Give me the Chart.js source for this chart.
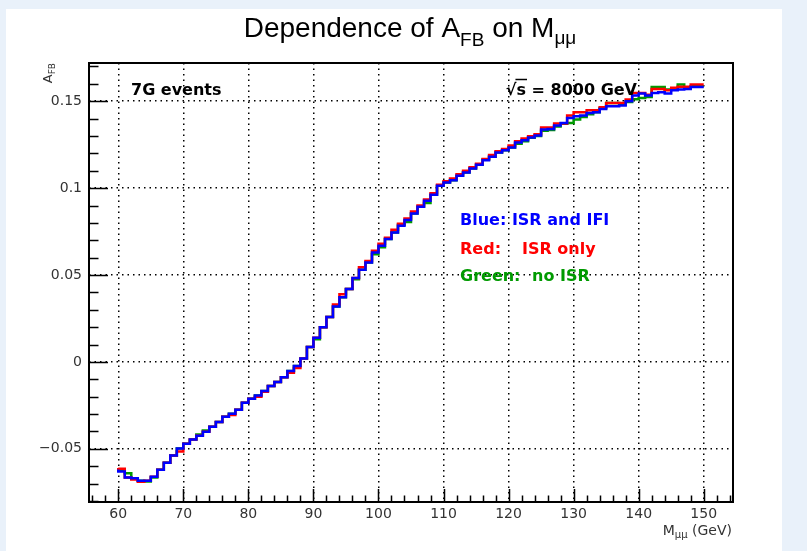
<!DOCTYPE html>
<html>
<head>
<meta charset="utf-8">
<script src="https://cdn.jsdelivr.net/npm/chart.js@4/dist/chart.umd.min.js"></script>
<style>
  html, body { margin: 0; padding: 0; background: #e9f1fa; }
  #afb-chart { display: block; }
</style>
</head>
<body>
<canvas id="afb-chart" width="807" height="551"></canvas>
<script>
// ビンの下端 (GeV)
const firstBin = 60;
const binCount = 90;

// Blue: ISR and IFI
const blueAfb = [
  -0.0619, -0.0630, -0.0665, -0.0670, -0.0684, -0.0684, -0.0660, -0.0620, -0.0580, -0.0538,
  -0.0498, -0.0471, -0.0447, -0.0425, -0.0402, -0.0373, -0.0345, -0.0316, -0.0298, -0.0275,
  -0.0235, -0.0212, -0.0193, -0.0167, -0.0139, -0.0115, -0.0088, -0.0052, -0.0024, 0.0019,
  0.0086, 0.0139, 0.0200, 0.0258, 0.0319, 0.0372, 0.0420, 0.0483, 0.0530, 0.0572,
  0.0630, 0.0669, 0.0707, 0.0745, 0.0784, 0.0816, 0.0854, 0.0893, 0.0927, 0.0962,
  0.1013, 0.1033, 0.1046, 0.1071, 0.1090, 0.1113, 0.1134, 0.1161, 0.1180, 0.1205,
  0.1218, 0.1234, 0.1262, 0.1276, 0.1291, 0.1303, 0.1337, 0.1340, 0.1360, 0.1375,
  0.1404, 0.1414, 0.1418, 0.1433, 0.1437, 0.1456, 0.1471, 0.1471, 0.1475, 0.1500,
  0.1533, 0.1544, 0.1533, 0.1548, 0.1552, 0.1544, 0.1563, 0.1567, 0.1571, 0.1582
];

// Red: ISR only
const redAfb = [
  -0.0610, -0.0615, -0.0665, -0.0676, -0.0690, -0.0684, -0.0660, -0.0620, -0.0580, -0.0538,
  -0.0515, -0.0471, -0.0447, -0.0425, -0.0402, -0.0373, -0.0345, -0.0316, -0.0305, -0.0275,
  -0.0235, -0.0212, -0.0200, -0.0172, -0.0139, -0.0115, -0.0088, -0.0062, -0.0035, 0.0019,
  0.0086, 0.0139, 0.0200, 0.0258, 0.0330, 0.0390, 0.0420, 0.0483, 0.0545, 0.0580,
  0.0640, 0.0680, 0.0715, 0.0760, 0.0795, 0.0825, 0.0865, 0.0900, 0.0935, 0.0970,
  0.1020, 0.1040, 0.1055, 0.1080, 0.1100, 0.1120, 0.1140, 0.1168, 0.1190, 0.1212,
  0.1225, 0.1245, 0.1270, 0.1285, 0.1298, 0.1310, 0.1349, 0.1349, 0.1372, 0.1372,
  0.1418, 0.1437, 0.1437, 0.1448, 0.1448, 0.1466, 0.1490, 0.1490, 0.1490, 0.1510,
  0.1548, 0.1548, 0.1538, 0.1571, 0.1571, 0.1563, 0.1577, 0.1583, 0.1583, 0.1596
];

// Green: no ISR
const greenAfb = [
  -0.0619, -0.0620, -0.0640, -0.0672, -0.0684, -0.0688, -0.0665, -0.0620, -0.0580, -0.0538,
  -0.0498, -0.0471, -0.0447, -0.0418, -0.0395, -0.0373, -0.0345, -0.0316, -0.0298, -0.0275,
  -0.0235, -0.0212, -0.0193, -0.0167, -0.0139, -0.0115, -0.0088, -0.0052, -0.0024, 0.0019,
  0.0086, 0.0130, 0.0200, 0.0258, 0.0319, 0.0372, 0.0420, 0.0475, 0.0530, 0.0572,
  0.0620, 0.0660, 0.0707, 0.0745, 0.0790, 0.0805, 0.0854, 0.0893, 0.0915, 0.0962,
  0.1013, 0.1033, 0.1046, 0.1071, 0.1090, 0.1113, 0.1134, 0.1165, 0.1180, 0.1205,
  0.1218, 0.1234, 0.1255, 0.1270, 0.1290, 0.1300, 0.1330, 0.1335, 0.1355, 0.1370,
  0.1375, 0.1395, 0.1410, 0.1425, 0.1437, 0.1460, 0.1490, 0.1490, 0.1480, 0.1495,
  0.1512, 0.1519, 0.1525, 0.1582, 0.1582, 0.1567, 0.1567, 0.1596, 0.1573, 0.1586
];

// 目盛り
const xMajorTicks = [60, 70, 80, 90, 100, 110, 120, 130, 140, 150];
const yMajorTicks = [-0.05, 0, 0.05, 0.1, 0.15];
const yTickLabels = ['\u22120.05', '0', '0.05', '0.1', '0.15'];

// 軸の範囲
const xRange = [55.5, 154.5];
const yRange = [-0.0806, 0.172];

/*
  ヒストグラムの点列 (ビン端 + 最後の端)
*/
function histPoints(values) {
  let points = values.map((v, i) => ({ x: firstBin + i, y: v }));
  points.push({ x: firstBin + binCount, y: values[values.length - 1] });
  return points;
}

/*
  添字付きテキスト描画
*/
function drawParts(ctx, parts, x, y, align) {
  let total = 0;
  parts.forEach(p => { ctx.font = p.font; p.w = ctx.measureText(p.text).width; total += p.w; });
  let cx = align === 'center' ? x - total / 2 : (align === 'right' ? x - total : x);
  ctx.textAlign = 'left';
  ctx.textBaseline = 'alphabetic';
  parts.forEach(p => {
    ctx.font = p.font;
    ctx.fillStyle = p.color || '#000';
    p.x = cx;
    ctx.fillText(p.text, cx, y + (p.dy || 0));
    cx += p.w;
  });
  return parts;
}

const rootStyle = {
  id: 'rootStyle',
  beforeDraw(chart) {
    const ctx = chart.ctx;
    ctx.save();
    ctx.fillStyle = '#e9f1fa';
    ctx.fillRect(0, 0, chart.width, chart.height);
    ctx.fillStyle = '#ffffff';
    ctx.fillRect(6, 9, 776, chart.height - 9);
    ctx.restore();
  },
  afterDraw(chart) {
    const ctx = chart.ctx;
    const area = chart.chartArea;
    const xs = chart.scales.x;
    const ys = chart.scales.y;
    ctx.save();

    // 枠
    ctx.strokeStyle = '#000';
    ctx.lineWidth = 2;
    ctx.strokeRect(area.left, area.top, area.right - area.left, area.bottom - area.top);

    // x 目盛り (内向き)
    ctx.lineWidth = 1.5;
    ctx.beginPath();
    for (let v = 56; v <= 154; v += 2) {
      let px = Math.round(xs.getPixelForValue(v)) + 0.5;
      let len = v % 10 === 0 ? 13 : 6.5;
      ctx.moveTo(px, area.bottom);
      ctx.lineTo(px, area.bottom - len);
    }
    // y 目盛り (内向き)
    for (let k = -8; k <= 17; k++) {
      let py = Math.round(ys.getPixelForValue(k / 100)) + 0.5;
      let len = k % 5 === 0 ? 19 : 9.5;
      ctx.moveTo(area.left, py);
      ctx.lineTo(area.left + len, py);
    }
    ctx.stroke();

    // タイトル
    drawParts(ctx, [
      { text: 'Dependence of A', font: '28px "Liberation Sans"' },
      { text: 'FB', font: '19px "Liberation Sans"', dy: 9 },
      { text: ' on M', font: '28px "Liberation Sans"' },
      { text: '\u03bc\u03bc', font: '19px "Liberation Sans"', dy: 7 }
    ], 410, 37, 'center');

    // 軸タイトル
    drawParts(ctx, [
      { text: 'M', font: '14px "DejaVu Sans"', color: '#333' },
      { text: '\u03bc\u03bc', font: '10px "DejaVu Sans"', color: '#333', dy: 3 },
      { text: ' (GeV)', font: '14px "DejaVu Sans"', color: '#333' }
    ], 732, 535, 'right');

    ctx.save();
    ctx.translate(52, area.top);
    ctx.rotate(-Math.PI / 2);
    drawParts(ctx, [
      { text: 'A', font: '13px "DejaVu Sans"', color: '#333' },
      { text: 'FB', font: '9px "DejaVu Sans"', color: '#333', dy: 3 }
    ], 0, 0, 'right');
    ctx.restore();

    // 注記
    const bold = 'bold 16px "DejaVu Sans"';
    drawParts(ctx, [{ text: '7G events', font: bold }], 131, 95, 'left');
    const sqrtParts = drawParts(ctx, [
      { text: '\u221a', font: bold },
      { text: 's', font: bold },
      { text: ' = 8000 GeV', font: bold }
    ], 637, 95, 'right');
    // √ の上線
    ctx.lineWidth = 1.5;
    ctx.beginPath();
    ctx.moveTo(sqrtParts[1].x - 1, 79.5);
    ctx.lineTo(sqrtParts[1].x + sqrtParts[1].w + 1, 79.5);
    ctx.stroke();

    drawParts(ctx, [{ text: 'Blue: ISR and IFI', font: bold, color: '#0000ff' }], 460, 225, 'left');
    drawParts(ctx, [{ text: 'Red:', font: bold, color: '#ff0000' }], 460, 254, 'left');
    drawParts(ctx, [{ text: 'ISR only', font: bold, color: '#ff0000' }], 522, 254, 'left');
    drawParts(ctx, [{ text: 'Green:', font: bold, color: '#009a00' }], 460, 281, 'left');
    drawParts(ctx, [{ text: 'no ISR', font: bold, color: '#009a00' }], 532, 281, 'left');

    ctx.restore();
  }
};

const dottedGrid = {
  display: true,
  drawTicks: false,
  color: '#000',
  lineWidth: 1.5
};

new Chart(document.getElementById('afb-chart'), {
  type: 'line',
  data: {
    datasets: [
      { label: 'Blue', data: histPoints(blueAfb), borderColor: '#0000ff', order: 0 },
      { label: 'Red', data: histPoints(redAfb), borderColor: '#ff0000', order: 1 },
      { label: 'Green', data: histPoints(greenAfb), borderColor: '#009a00', order: 2 }
    ]
  },
  options: {
    responsive: false,
    animation: false,
    devicePixelRatio: 1,
    layout: { padding: { top: 63, right: 74, left: 0, bottom: 0 } },
    elements: {
      line: { stepped: 'after', borderWidth: 2.5, fill: false, tension: 0 },
      point: { radius: 0 }
    },
    plugins: {
      legend: { display: false },
      tooltip: { enabled: false },
      title: { display: false }
    },
    scales: {
      x: {
        type: 'linear',
        min: xRange[0],
        max: xRange[1],
        grid: dottedGrid,
        border: { display: false, dash: [1.5, 4] },
        afterBuildTicks: scale => { scale.ticks = xMajorTicks.map(v => ({ value: v })); },
        afterFit: scale => { scale.height = 49; },
        ticks: {
          autoSkip: false,
          maxRotation: 0,
          padding: 4,
          color: '#333',
          font: { family: 'DejaVu Sans', size: 14 },
          callback: value => String(value)
        }
      },
      y: {
        type: 'linear',
        min: yRange[0],
        max: yRange[1],
        grid: dottedGrid,
        border: { display: false, dash: [1.5, 4] },
        afterBuildTicks: scale => { scale.ticks = yMajorTicks.map(v => ({ value: v })); },
        afterFit: scale => { scale.width = 89; },
        ticks: {
          autoSkip: false,
          padding: 7,
          color: '#333',
          font: { family: 'DejaVu Sans', size: 14 },
          callback: (value, index) => yTickLabels[index]
        }
      }
    }
  },
  plugins: [rootStyle]
});
</script>
</body>
</html>
